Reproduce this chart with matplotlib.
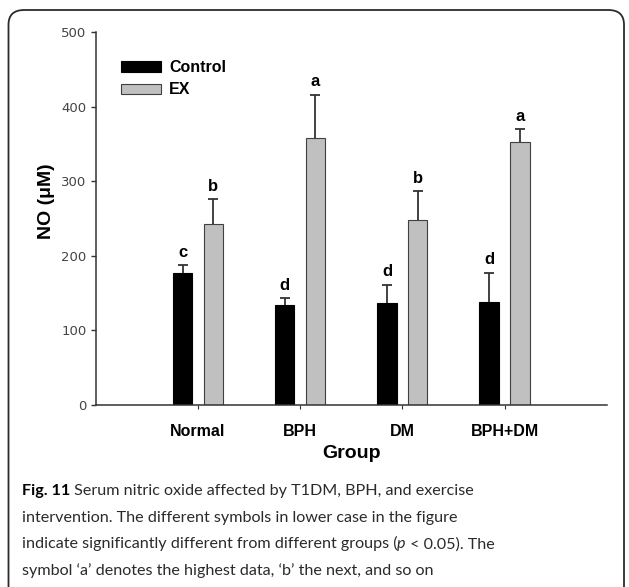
import matplotlib
matplotlib.use("Agg")
import matplotlib.pyplot as plt
from matplotlib.patches import FancyBboxPatch
import numpy as np

groups = ["Normal", "BPH", "DM", "BPH+DM"]
control = [176, 133, 136, 138]
control_err = [11, 10, 25, 39]
ex = [243, 358, 248, 352]
ex_err = [33, 58, 39, 18]
control_letters = ["c", "d", "d", "d"]
ex_letters = ["b", "a", "b", "a"]

W, H = 629, 587
fig = plt.figure(figsize=(W / 100, H / 100), dpi=100)

# rounded frame around figure + caption
frame = FancyBboxPatch((8.5 / W, -0.1), 615.5 / W, 1.1 - 10 / H,
                       boxstyle="round,pad=0,rounding_size=0.025",
                       transform=fig.transFigure, fill=False,
                       edgecolor="#2b2b2b", linewidth=1.3)
fig.add_artist(frame)

ax = fig.add_axes([95.7 / W, 1 - 404.5 / H, 511 / W, 372.2 / H])

x = np.arange(1, len(groups) + 1)
w = 0.19
off = 0.15
ekw = dict(ecolor="#333333", elinewidth=1.3, capthick=1.3)

b1 = ax.bar(x - off, control, w, color="black", edgecolor="black", linewidth=0.8,
            yerr=[[0] * 4, control_err], capsize=3.5, error_kw=ekw, label="Control", zorder=2)
b2 = ax.bar(x + off, ex, w, color="#c0c0c0", edgecolor="#404040", linewidth=0.8,
            yerr=[[0] * 4, ex_err], capsize=3.5, error_kw=ekw, label="EX", zorder=2)
# only the upper caps
for b in (b1, b2):
    caps = b.errorbar.lines[1]
    caps[0].set_visible(False)

for i in range(len(groups)):
    ax.annotate(control_letters[i], (x[i] - off, control[i] + control_err[i]),
                xytext=(0, 6), textcoords="offset points", ha="center", va="baseline",
                fontsize=12, fontweight="bold", family="Liberation Sans")
    ax.annotate(ex_letters[i], (x[i] + off, ex[i] + ex_err[i]),
                xytext=(0, 6), textcoords="offset points", ha="center", va="baseline",
                fontsize=12, fontweight="bold", family="Liberation Sans")

ax.set_xlim(0, 5)
ax.set_ylim(0, 500)
ax.set_yticks([0, 100, 200, 300, 400, 500])
ax.set_xticks(x)
ax.set_xticklabels(groups, fontsize=11.5, fontweight="bold", family="Liberation Sans")
for lab in ax.get_yticklabels():
    lab.set_fontsize(9.5)
    lab.set_family("Liberation Sans Narrow")
    lab.set_color("#444444")

for s in ["top", "right"]:
    ax.spines[s].set_visible(False)
for s in ["left", "bottom"]:
    ax.spines[s].set_color("#333333")
    ax.spines[s].set_linewidth(1.1)
ax.tick_params(axis="y", length=3.5, width=1.0, color="#333333", pad=3)
ax.tick_params(axis="x", length=3, width=0.8, color="#333333", pad=11)

ax.set_xlabel("Group", fontsize=14, fontweight="bold", family="Liberation Sans", labelpad=4)
ax.set_ylabel("NO (\u03bcM)", fontsize=14, fontweight="bold", family="Liberation Sans")
ax.yaxis.set_label_coords(-0.08, 0.547)

ax.legend(loc="upper left", bbox_to_anchor=(0.05, 0.925), frameon=False,
          prop={"family": "Liberation Sans", "weight": "bold", "size": 11.5},
          handlelength=2.5, handleheight=0.62, handletextpad=0.5,
          labelspacing=0.45, borderpad=0, borderaxespad=0)

# caption
cap_font = "Lato"
cap_size = 11.6
cap_col = "#2a2a2a"
x0 = 21.7 / W
base = [495, 521.7, 548.4, 575]

t1 = fig.text(x0, 1 - base[0] / H, "Fig. 11", fontsize=cap_size, fontweight="bold",
              family=cap_font, color="black", va="baseline")
ax.annotate(" Serum nitric oxide affected by T1DM, BPH, and exercise", xy=(1, 0),
            xycoords=t1, va="bottom", ha="left", fontsize=cap_size,
            family=cap_font, color=cap_col, annotation_clip=False)
fig.text(x0, 1 - base[1] / H, "intervention. The different symbols in lower case in the figure",
         fontsize=cap_size, family=cap_font, color=cap_col, va="baseline")
t3 = fig.text(x0, 1 - base[2] / H, "indicate significantly different from different groups (",
              fontsize=cap_size, family=cap_font, color=cap_col, va="baseline")
t3b = ax.annotate("p", xy=(1, 0), xycoords=t3, va="bottom", ha="left", fontsize=cap_size,
                  family=cap_font, style="italic", color=cap_col, annotation_clip=False)
ax.annotate(" < 0.05). The", xy=(1, 0), xycoords=t3b, va="bottom", ha="left",
            fontsize=cap_size, family=cap_font, color=cap_col, annotation_clip=False)
fig.text(x0, 1 - base[3] / H, "symbol \u2018a\u2019 denotes the highest data, \u2018b\u2019 the next, and so on",
         fontsize=cap_size, family=cap_font, color=cap_col, va="baseline")

fig.savefig("out.png", dpi=100)
